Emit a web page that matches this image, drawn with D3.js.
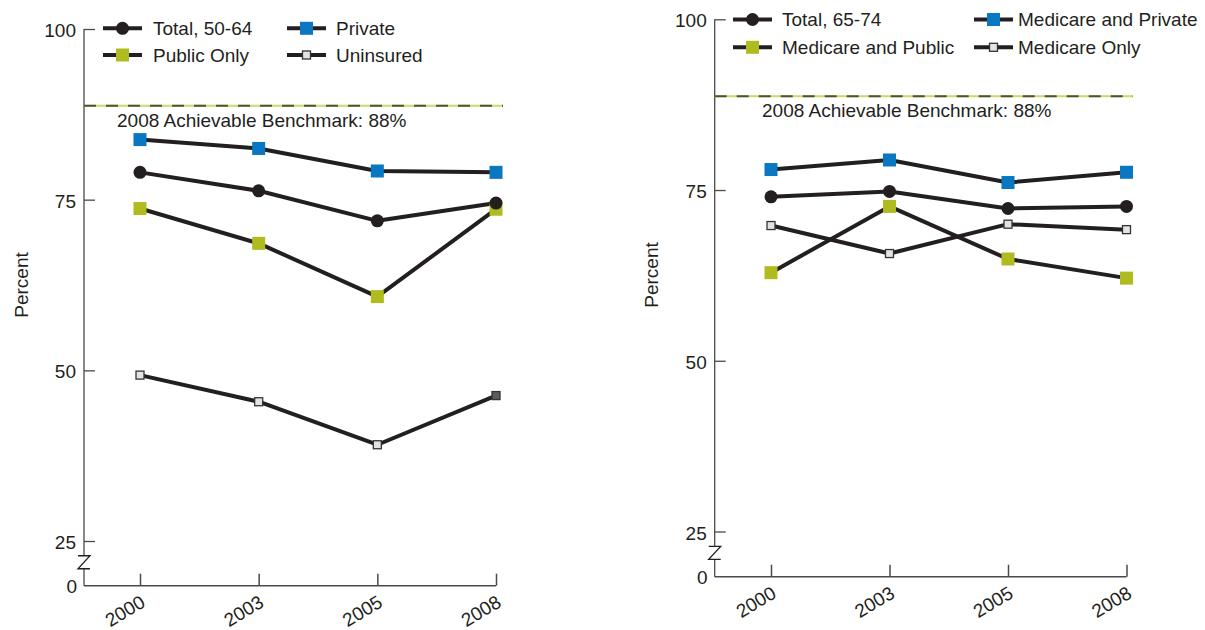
<!DOCTYPE html>
<html>
<head>
<meta charset="utf-8">
<script src="https://cdn.jsdelivr.net/npm/d3@7"></script>
<style>
  body { margin: 0; background: #fff; }
  svg { display: block; font-family: "Liberation Sans", Arial, Helvetica, sans-serif; }
</style>
</head>
<body>
<svg id="chart" width="1205" height="630"></svg>
<script>
// ---------- DATA ----------
const years = ["2000", "2003", "2005", "2008"];
const yTickValues = [25, 50, 75, 100];
const benchmarkValue = 88.75;
const benchmarkLabel = "2008 Achievable Benchmark: 88%";
const axisTitle = "Percent";

// Left panel: ages 50-64
const leftNames = ["Total, 50-64", "Private", "Public Only", "Uninsured"];
const leftTotal = [79.0, 76.3, 71.9, 74.5];
const leftPrivate = [83.8, 82.5, 79.2, 79.0];
const leftPublicOnly = [73.7, 68.6, 60.8, 73.6];
const leftUninsured = [49.3, 45.4, 39.1, 46.3];

// Right panel: ages 65-74
const rightNames = ["Total, 65-74", "Medicare and Private", "Medicare and Public", "Medicare Only"];
const rightTotal = [74.0, 74.8, 72.3, 72.6];
const rightMedPrivate = [78.0, 79.4, 76.1, 77.6];
const rightMedPublic = [62.9, 72.6, 64.9, 62.1];
const rightMedOnly = [69.8, 65.7, 70.0, 69.2];

// ---------- STYLE ----------
const INK = "#231f20";
const AXIS = "#4a4a4a";
const BLUE = "#0a77c2";
const GREEN = "#afbb1f";
const LIGHT = "#e3e3e3";
const FS = 19;

const svg = d3.select("#chart");

function drawPanel(p) {
  const g = svg.append("g");
  const x = d3.scalePoint().domain(years).range(p.xRange);
  const y = d3.scaleLinear().domain([25, 100]).range(p.yRange);
  const zeroY = p.zeroY;

  // y axis
  const yAx = g.append("g").attr("transform", `translate(${p.axisX},0)`)
    .call(d3.axisLeft(y).tickValues(yTickValues).tickSizeInner(-11).tickSizeOuter(0).tickPadding(8));
  yAx.select(".domain").remove();
  yAx.selectAll("line").attr("stroke", AXIS).attr("stroke-width", 1.3);
  yAx.selectAll("text").attr("font-size", FS).attr("fill", INK).attr("font-family", null).attr("dy", "0.4em");
  // zero label
  g.append("text").attr("x", p.axisX - 7).attr("y", zeroY).attr("dy", "0.4em")
    .attr("text-anchor", "end").attr("font-size", FS).attr("fill", INK).text("0");
  // axis vertical line
  g.append("line").attr("x1", p.axisX).attr("x2", p.axisX).attr("y1", y(100)).attr("y2", zeroY)
    .attr("stroke", AXIS).attr("stroke-width", 1.3);
  // break mark "Z"
  const bm = y(25) + (zeroY - y(25)) * 0.33;
  g.append("rect").attr("x", p.axisX - 2).attr("y", bm).attr("width", 4).attr("height", 13).attr("fill", "#fff");
  g.append("path")
    .attr("d", `M${p.axisX - 6},${bm} L${p.axisX + 6},${bm} L${p.axisX - 6},${bm + 13} L${p.axisX + 6},${bm + 13}`)
    .attr("fill", "none").attr("stroke", INK).attr("stroke-width", 1.3);

  // x axis
  const xAx = g.append("g").attr("transform", `translate(0,${zeroY})`)
    .call(d3.axisBottom(x).tickSizeInner(-12).tickSizeOuter(0));
  xAx.select(".domain").remove();
  xAx.selectAll("line").attr("stroke", AXIS).attr("stroke-width", 1.5);
  xAx.selectAll("text").attr("font-size", FS).attr("fill", INK).attr("font-family", null)
    .attr("x", 0).attr("y", 0).attr("dy", 0).attr("text-anchor", "end")
    .attr("transform", "translate(6,20) rotate(-31)");
  g.append("line").attr("x1", p.axisX).attr("x2", p.xRange[1]).attr("y1", zeroY).attr("y2", zeroY)
    .attr("stroke", AXIS).attr("stroke-width", 1.5);

  // y title
  g.append("text").attr("transform", `translate(${p.titleX},${p.titleY}) rotate(-90)`)
    .attr("text-anchor", "middle").attr("font-size", FS).attr("fill", INK).text(axisTitle);

  // benchmark
  const by = y(benchmarkValue);
  g.append("line").attr("x1", p.axisX).attr("x2", p.benchEnd).attr("y1", by).attr("y2", by)
    .attr("stroke", "#cdd76a").attr("stroke-width", 2);
  g.append("line").attr("x1", p.axisX).attr("x2", p.benchEnd).attr("y1", by).attr("y2", by)
    .attr("stroke", "#4f5236").attr("stroke-width", 2).attr("stroke-dasharray", "12,10");
  g.append("text").attr("x", p.benchLabelX).attr("y", by + 21).attr("font-size", FS).attr("fill", INK)
    .text(benchmarkLabel);

  // series
  const line = d3.line().x((d, i) => x(years[i])).y(d => y(d));
  p.series.forEach(s => {
    g.append("path").attr("d", line(s.values)).attr("fill", "none")
      .attr("stroke", INK).attr("stroke-width", 4).attr("stroke-linejoin", "round");
  });
  p.series.forEach(s => {
    const mg = g.append("g");
    s.values.forEach((v, i) => drawMarker(mg, s, x(years[i]), y(v), i));
  });

  // legend
  p.series.forEach((s, k) => {
    const pos = p.legend[k];
    g.append("line").attr("x1", pos[0]).attr("x2", pos[0] + 39).attr("y1", pos[1]).attr("y2", pos[1])
      .attr("stroke", INK).attr("stroke-width", 4);
    drawMarker(g, s, pos[0] + 19.5, pos[1], -1);
    g.append("text").attr("x", pos[2]).attr("y", pos[1]).attr("dy", "0.36em")
      .attr("font-size", FS).attr("fill", INK).text(s.name);
  });
}

function drawMarker(g, s, cx, cy, i) {
  if (s.type === "circle") {
    g.append("circle").attr("cx", cx).attr("cy", cy).attr("r", 6.5).attr("fill", INK);
  } else if (s.type === "square") {
    g.append("rect").attr("x", cx - 6.5).attr("y", cy - 6.5).attr("width", 13).attr("height", 13)
      .attr("fill", s.color);
  } else {
    const fill = (s.darkLast && i === 3) ? "#5c5c5c" : LIGHT;
    g.append("rect").attr("x", cx - 4).attr("y", cy - 4).attr("width", 8).attr("height", 8)
      .attr("fill", fill).attr("stroke", "#333").attr("stroke-width", 1.3);
  }
}

drawPanel({
  axisX: 84, xRange: [140, 496], yRange: [541, 29], zeroY: 585.7,
  titleX: 28, titleY: 285, benchEnd: 503, benchLabelX: 117,
  series: [
    { name: leftNames[3], values: leftUninsured, type: "small", darkLast: true },
    { name: leftNames[2], values: leftPublicOnly, type: "square", color: GREEN },
    { name: leftNames[1], values: leftPrivate, type: "square", color: BLUE },
    { name: leftNames[0], values: leftTotal, type: "circle" }
  ],
  legend: [[287, 55, 336], [103, 55, 153], [287, 28.3, 336], [103, 28.3, 153]]
});

drawPanel({
  axisX: 714.7, xRange: [771, 1126.5], yRange: [531.5, 19.3], zeroY: 576.7,
  titleX: 658, titleY: 275, benchEnd: 1133, benchLabelX: 762,
  series: [
    { name: rightNames[3], values: rightMedOnly, type: "small" },
    { name: rightNames[2], values: rightMedPublic, type: "square", color: GREEN },
    { name: rightNames[1], values: rightMedPrivate, type: "square", color: BLUE },
    { name: rightNames[0], values: rightTotal, type: "circle" }
  ],
  legend: [[974, 47.3, 1018], [733, 47.3, 782], [974, 19.5, 1018], [733, 19.5, 782]]
});
</script>
</body>
</html>
